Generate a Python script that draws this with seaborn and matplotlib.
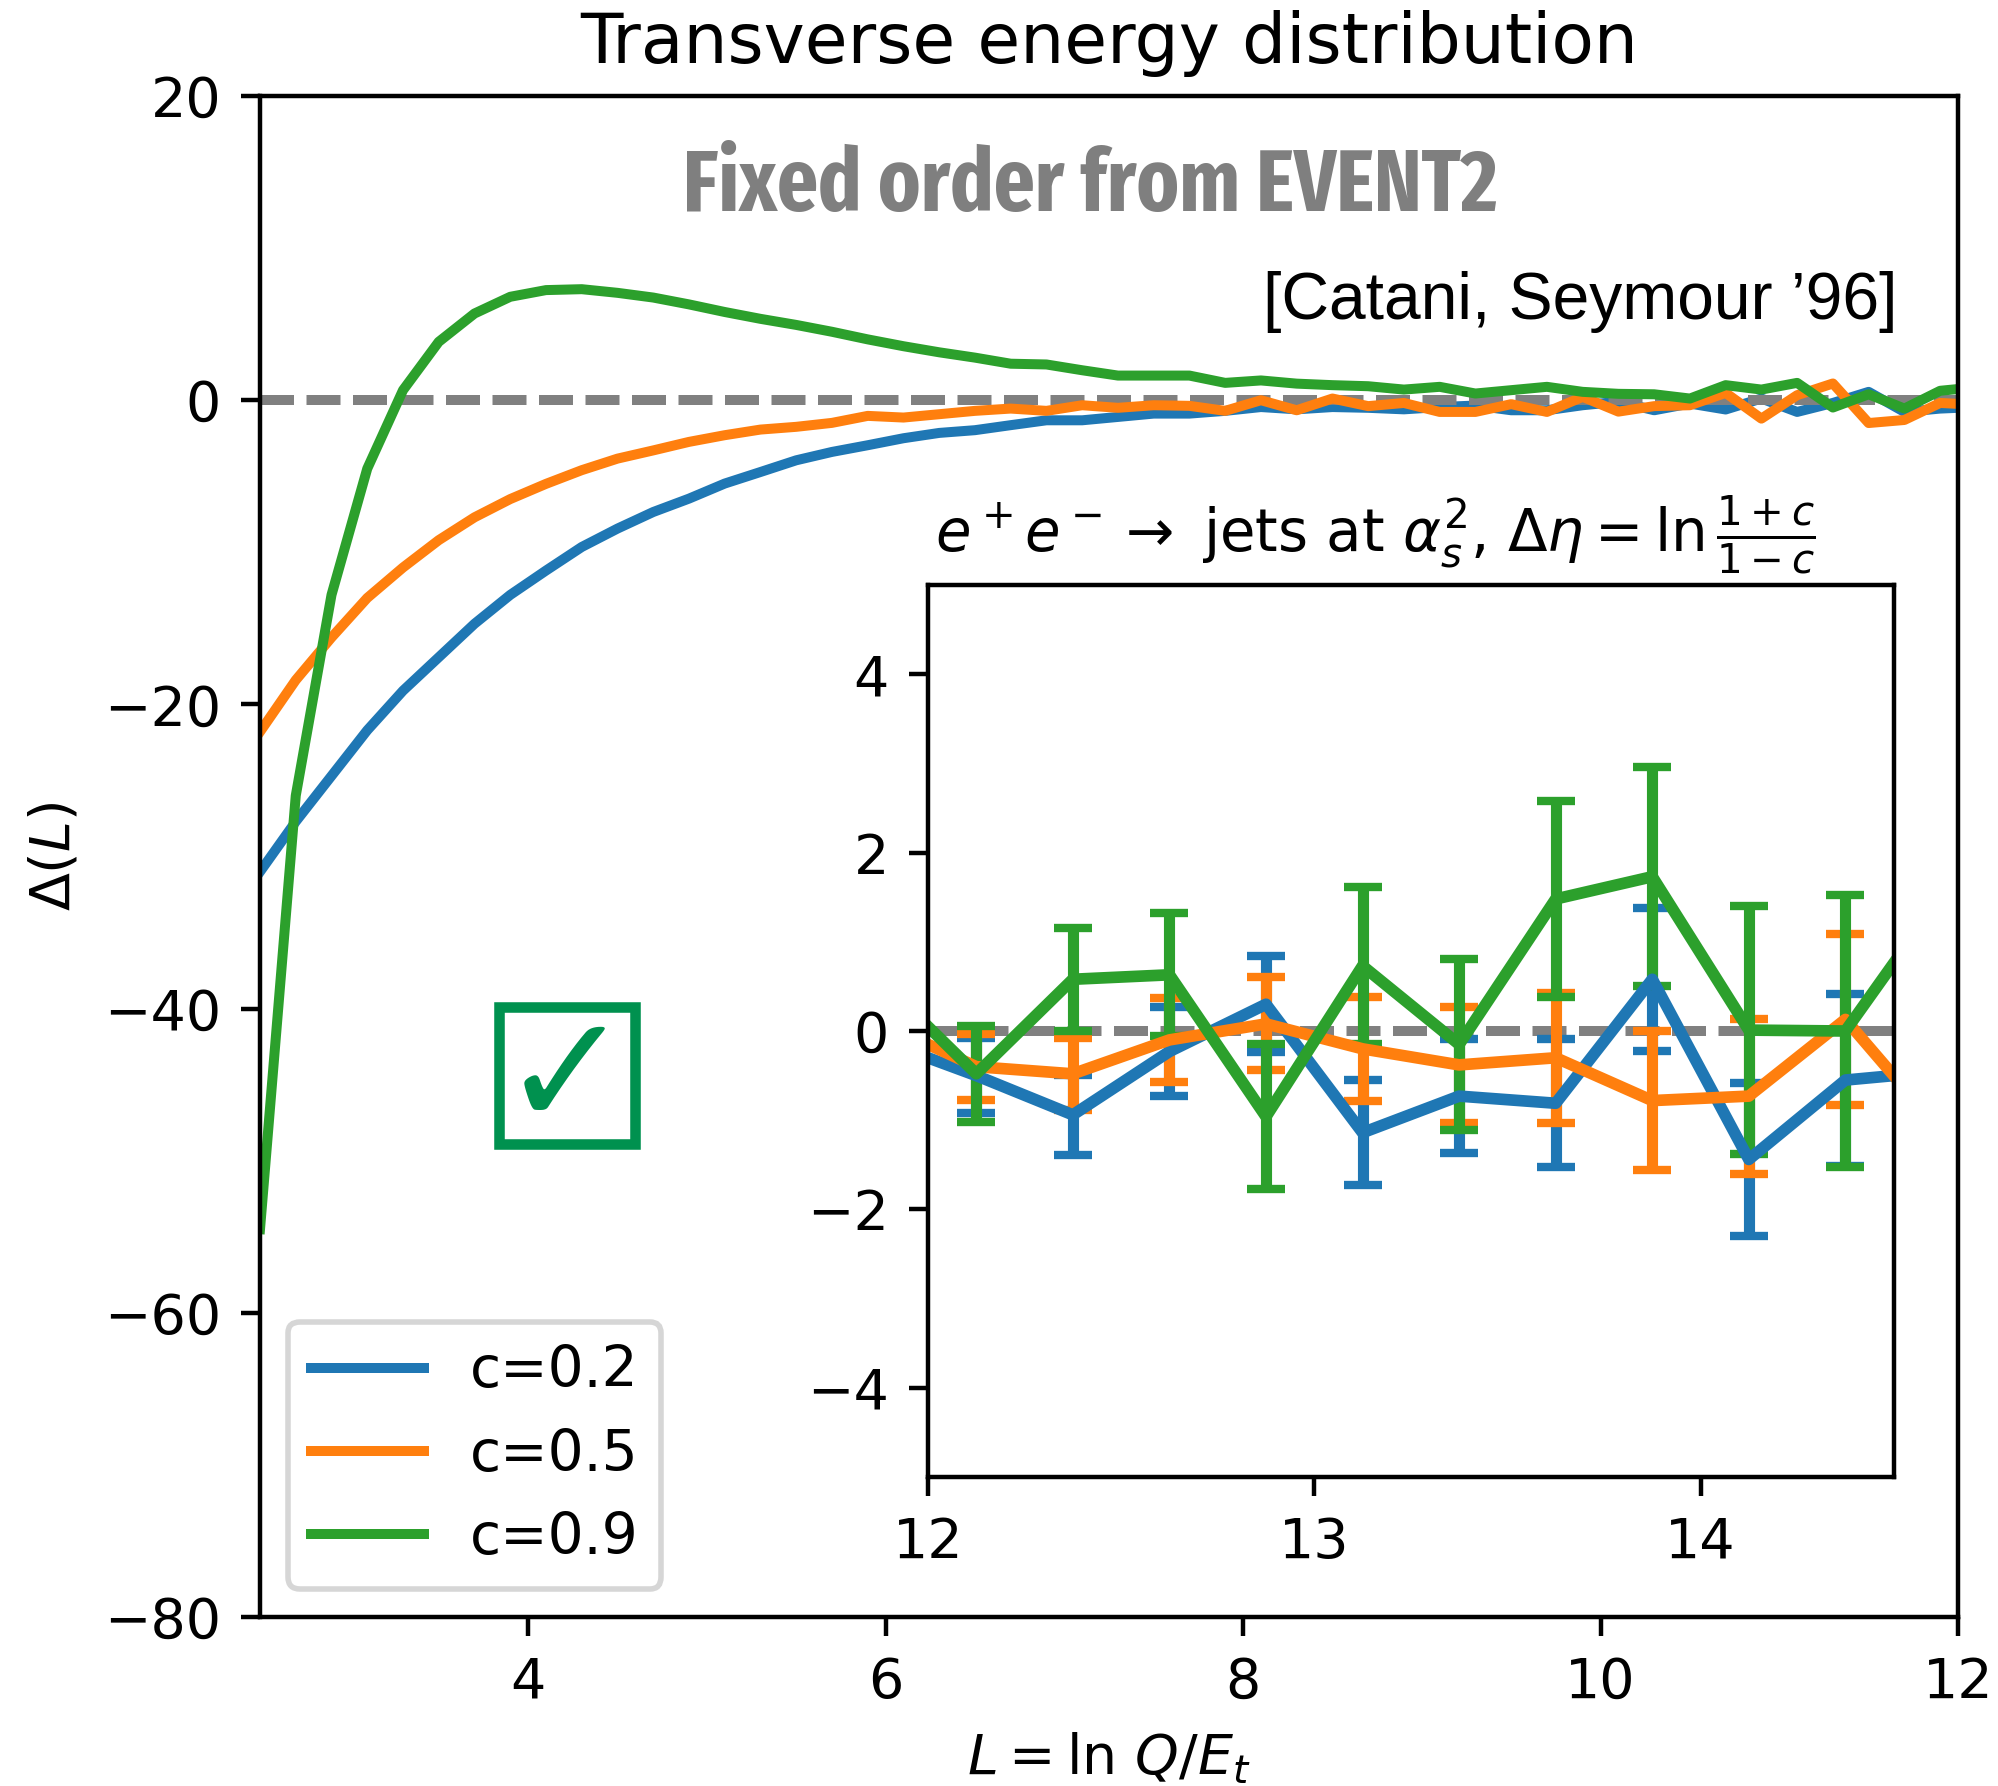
import matplotlib
matplotlib.use("Agg")
import matplotlib.pyplot as plt
from matplotlib import font_manager as fm
from matplotlib.patches import Rectangle
import numpy as np
import pandas as pd
import seaborn as sns

# ---------------- data ----------------
L_main = [2.5, 2.7, 2.9, 3.1, 3.3, 3.5, 3.7, 3.9, 4.1, 4.3, 4.5, 4.7, 4.9, 5.1, 5.3,
          5.5, 5.7, 5.9, 6.1, 6.3, 6.5, 6.7, 6.9, 7.1, 7.3, 7.5, 7.7, 7.9,
          8.1, 8.3, 8.5, 8.7, 8.9, 9.1, 9.3, 9.5, 9.7, 9.9,
          10.1, 10.3, 10.5, 10.7, 10.9, 11.1, 11.3, 11.5, 11.7, 11.9, 12.1]
delta_c02 = [-31.0, -27.7, -24.7, -21.7, -19.1, -16.9, -14.7, -12.8, -11.2, -9.65, -8.44, -7.35, -6.47, -5.48, -4.72,
             -3.95, -3.4, -2.96, -2.5, -2.15, -1.97, -1.64, -1.32, -1.32, -1.1, -0.88, -0.88, -0.7,
             -0.45, -0.6, -0.45, -0.5, -0.6, -0.45, -0.35, -0.66, -0.66, -0.33,
             -0.1, -0.66, -0.22, -0.61, 0.11, -0.77, -0.18, 0.55, -0.77, -0.55, -0.45]
delta_c05 = [-21.8, -18.4, -15.6, -13.0, -11.0, -9.2, -7.7, -6.5, -5.5, -4.6, -3.84, -3.3, -2.74, -2.3, -1.93,
             -1.75, -1.49, -1.03, -1.14, -0.92, -0.7, -0.55, -0.7, -0.33, -0.5, -0.33, -0.37, -0.7,
             0.0, -0.66, 0.11, -0.39, -0.18, -0.77, -0.77, -0.26, -0.77, 0.22,
             -0.75, -0.39, -0.33, 0.48, -1.21, 0.33, 1.1, -1.5, -1.3, -0.18, -0.3]
delta_c09 = [-54.5, -26.0, -12.8, -4.5, 0.66, 3.84, 5.7, 6.8, 7.24, 7.3, 7.06, 6.75, 6.3, 5.8, 5.35,
             4.95, 4.5, 4.0, 3.55, 3.15, 2.8, 2.4, 2.35, 1.97, 1.62, 1.62, 1.62, 1.14,
             1.3, 1.09, 0.99, 0.92, 0.7, 0.88, 0.44, 0.66, 0.88, 0.55,
             0.42, 0.39, 0.11, 0.99, 0.7, 1.14, -0.48, 0.39, -0.55, 0.62, 0.85]
labels = ["c=0.2", "c=0.5", "c=0.9"]
colors = ["#1f77b4", "#ff7f0e", "#2ca02c"]

L_inset = [11.875, 12.125, 12.375, 12.625, 12.875, 13.125, 13.375, 13.625, 13.875, 14.125, 14.375, 14.625]
inset_c02 = [-0.1, -0.5, -0.94, -0.23, 0.30, -1.14, -0.73, -0.81, 0.58, -1.44, -0.55, -0.45]
err_c02 = [0.38, 0.42, 0.45, 0.50, 0.54, 0.59, 0.64, 0.72, 0.80, 0.86, 0.96, 1.05]
inset_c05 = [0.1, -0.40, -0.48, -0.10, 0.08, -0.20, -0.38, -0.30, -0.78, -0.73, 0.13, -1.13]
err_c05 = [0.33, 0.37, 0.40, 0.47, 0.52, 0.58, 0.65, 0.73, 0.78, 0.87, 0.96, 1.05]
inset_c09 = [0.58, -0.48, 0.58, 0.63, -0.96, 0.73, -0.15, 1.48, 1.73, 0.01, 0.0, 1.52]
err_c09 = [0.50, 0.54, 0.58, 0.69, 0.81, 0.88, 0.96, 1.10, 1.23, 1.39, 1.53, 1.70]

main_xticks = [4, 6, 8, 10, 12]
main_yticks = [-80, -60, -40, -20, 0, 20]
inset_xticks = [12, 13, 14]
inset_yticks = [-4, -2, 0, 2, 4]

# ---------------- fonts ----------------
def _num(v, table, default):
    if isinstance(v, str):
        return table.get(v, default)
    return v

cands = []
for f in fm.fontManager.ttflist:
    w = _num(f.weight, fm.weight_dict, 400)
    st = _num(f.stretch, fm.stretch_dict, 500)
    nm = f.name
    if "ExtraCondensed" in nm or "Extra Condensed" in nm:
        st = min(st, 200)
    elif "Condensed" in nm or "Narrow" in nm:
        st = min(st, 300)
    if w >= 600 and st <= 300 and "Oblique" not in f.fname and "Italic" not in f.fname:
        cands.append((st, abs(w - 700), f.fname))
cands.sort()
if cands:
    fixed_fp = fm.FontProperties(fname=cands[0][2])
else:
    fixed_fp = fm.FontProperties(family="DejaVu Sans", weight="bold")

# ---------------- figure ----------------
fig = plt.figure(figsize=(1999 / 400, 1786 / 400), dpi=400)
ax = fig.add_axes([0.13007, 0.09462, 0.84942, 0.85162])

df = pd.DataFrame({
    "L": L_main * 3,
    "Delta": delta_c02 + delta_c05 + delta_c09,
    "c": [labels[0]] * len(L_main) + [labels[1]] * len(L_main) + [labels[2]] * len(L_main),
})
sns.lineplot(data=df, x="L", y="Delta", hue="c", hue_order=labels, palette=colors,
             estimator=None, sort=False, legend=False, lw=1.8, ax=ax)
main_lines = list(ax.lines)
for ln in main_lines[1:]:
    ln.set_zorder(2.2)
ax.axhline(0, color="gray", lw=1.8, linestyle=(0, (3.4, 1.25)), zorder=2.1)

ax.set_xlim(2.5, 12)
ax.set_ylim(-80, 20)
ax.set_xticks(main_xticks)
ax.set_yticks(main_yticks)
ax.set_xlabel(r"$L = \ln\, Q/E_t$")
ax.set_ylabel(r"$\Delta(L)$")
ax.set_title("Transverse energy distribution", fontsize=12.5)

ax.legend(handles=main_lines, labels=labels, loc="lower left", fontsize=10.2)

t_fixed = ax.text(0.4888, 0.9246, "Fixed order from EVENT2", transform=ax.transAxes,
                  ha="center", va="baseline", color="#7f7f7f", fontproperties=fixed_fp, fontsize=20)
t_cat = ax.text(0.9641, 0.8534, "[Catani, Seymour \u201996]", transform=ax.transAxes,
                ha="right", va="baseline", family=["Liberation Sans", "DejaVu Sans"], fontsize=11.5)

green_box = "#00914f"
ax.add_patch(Rectangle((0.14075, 0.31098), 0.0801, 0.09007, transform=ax.transAxes,
                       fill=False, ec=green_box, lw=1.9, zorder=3))
ax.text(0.1800, 0.3520, "\u2713", transform=ax.transAxes, ha="center", va="center",
        color=green_box, fontsize=28, family=["DejaVu Sans"], zorder=3)

# fit widths of special texts
fig.canvas.draw()
r = fig.canvas.get_renderer()
for t, target in [(t_fixed, 815.0), (t_cat, 635.0)]:
    bb = t.get_window_extent(r)
    t.set_fontsize(t.get_fontsize() * target / bb.width)

# ---------------- inset ----------------
axi = fig.add_axes([0.46423, 0.17301, 0.48309, 0.49944])
axi.axhline(0, color="gray", lw=1.8, linestyle=(0, (3.4, 1.25)), zorder=1.5)
for yv, ev, col in [(inset_c02, err_c02, colors[0]), (inset_c05, err_c05, colors[1]),
                    (inset_c09, err_c09, colors[2])]:
    axi.errorbar(L_inset, yv, yerr=ev, color=col, lw=2.1, elinewidth=2.0,
                 capsize=3.4, capthick=1.5)
axi.set_xlim(12, 14.5)
axi.set_ylim(-5, 5)
axi.set_xticks(inset_xticks)
axi.set_yticks(inset_yticks)
axi.set_title(r"$e^+e^- \to$ jets at $\alpha_s^2$, $\Delta\eta = \ln\frac{1+c}{1-c}$",
              fontsize=10.4, x=0.463)

fig.savefig("out.png", dpi=400)
